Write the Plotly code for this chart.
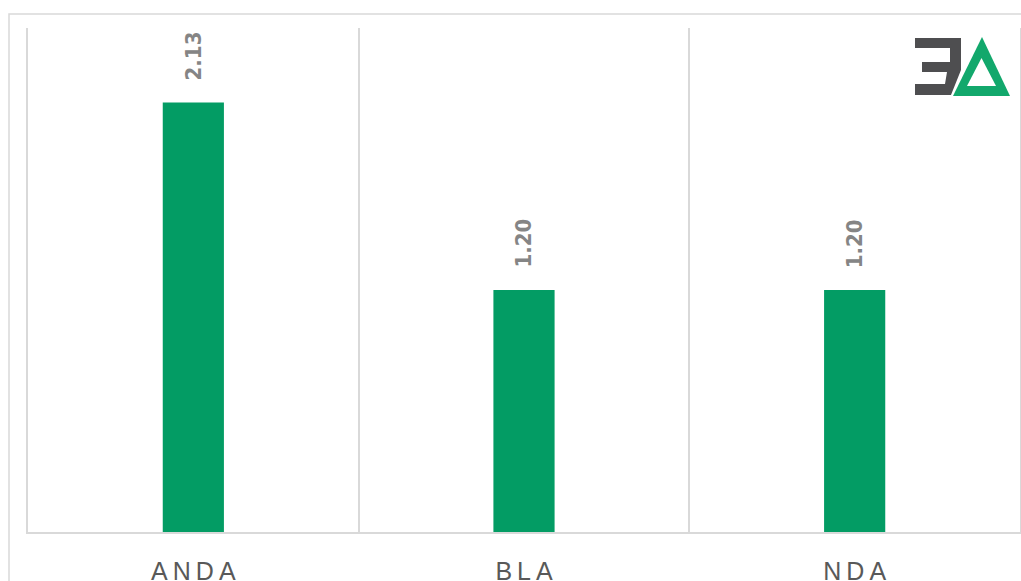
import plotly.graph_objects as go

# Application types and their values
categories = ["ANDA", "BLA", "NDA"]
values = [2.13, 1.20, 1.20]
value_labels = ["2.13", "1.20", "1.20"]
THIN = "\u2009"
tick_labels = [THIN.join(c) for c in categories]

W, H = 1021, 581
ML, MR, MT, MB = 28, 1, 28, 49
PW, PH = W - ML - MR, H - MT - MB

GREEN = "#039c64"
GRID = "#d9d9d9"


def px(x):
    return (x - ML) / PW


def py(y):
    return (H - MB - y) / PH


def path(points):
    return "M " + " L ".join(f"{px(x):.5f},{py(y):.5f}" for x, y in points) + " Z"


fig = go.Figure()
fig.add_trace(go.Bar(
    x=categories,
    y=values,
    width=0.185,
    marker=dict(color=GREEN, line=dict(width=0)),
    hoverinfo="x+y",
))

# value labels above the bars, rotated
for c, v, t in zip(categories, values, value_labels):
    fig.add_annotation(
        x=c, y=v, text=f"<b>{t}</b>", showarrow=False,
        textangle=-90, yanchor="bottom", xanchor="center", yshift=20,
        font=dict(family="DejaVu Sans Condensed, DejaVu Sans", size=22, color="#858585"),
    )

shapes = []
# chart frame
shapes.append(dict(type="rect", xref="paper", yref="paper",
                   x0=px(9), x1=px(1040), y0=py(600), y1=py(14),
                   line=dict(color=GRID, width=1.5), fillcolor="rgba(0,0,0,0)", layer="below"))

# logo: reversed E and triangle
logo_e = [(915, 38), (961, 38), (961, 70), (951, 95), (915, 95), (915, 84), (945, 84),
          (947, 72), (922, 72), (922, 62), (950, 62), (950, 48), (915, 48)]
shapes.append(dict(type="path", xref="paper", yref="paper", path=path(logo_e),
                   fillcolor="#4e4e50", line=dict(width=0)))
shapes.append(dict(type="path", xref="paper", yref="paper",
                   path=path([(982, 37), (1010, 96), (953, 96)]),
                   fillcolor="#12a86c", line=dict(width=0)))
shapes.append(dict(type="path", xref="paper", yref="paper",
                   path=path([(981.5, 58), (996, 86), (967, 86)]),
                   fillcolor="white", line=dict(width=0)))

fig.update_layout(
    width=W, height=H,
    margin=dict(l=ML, r=MR, t=MT, b=MB, autoexpand=False),
    paper_bgcolor="white", plot_bgcolor="white",
    showlegend=False,
    shapes=shapes,
    xaxis=dict(
        type="category",
        range=[-0.5, 2.5],
        tickmode="array", tickvals=categories, ticktext=tick_labels,
        tickson="boundaries",
        showgrid=True, gridcolor=GRID, gridwidth=1.5,
        showline=True, linecolor=GRID, linewidth=1.5,
        ticks="", ticklabelstandoff=16,
        tickfont=dict(family="Liberation Sans", size=25, color="#595959"),
        fixedrange=True,
    ),
    yaxis=dict(
        range=[0, 2.5],
        showgrid=False, zeroline=False,
        showline=True, mirror=True, linecolor=GRID, linewidth=1.5,
        showticklabels=False, ticks="",
        fixedrange=True,
    ),
)

fig.write_html("out.html")
